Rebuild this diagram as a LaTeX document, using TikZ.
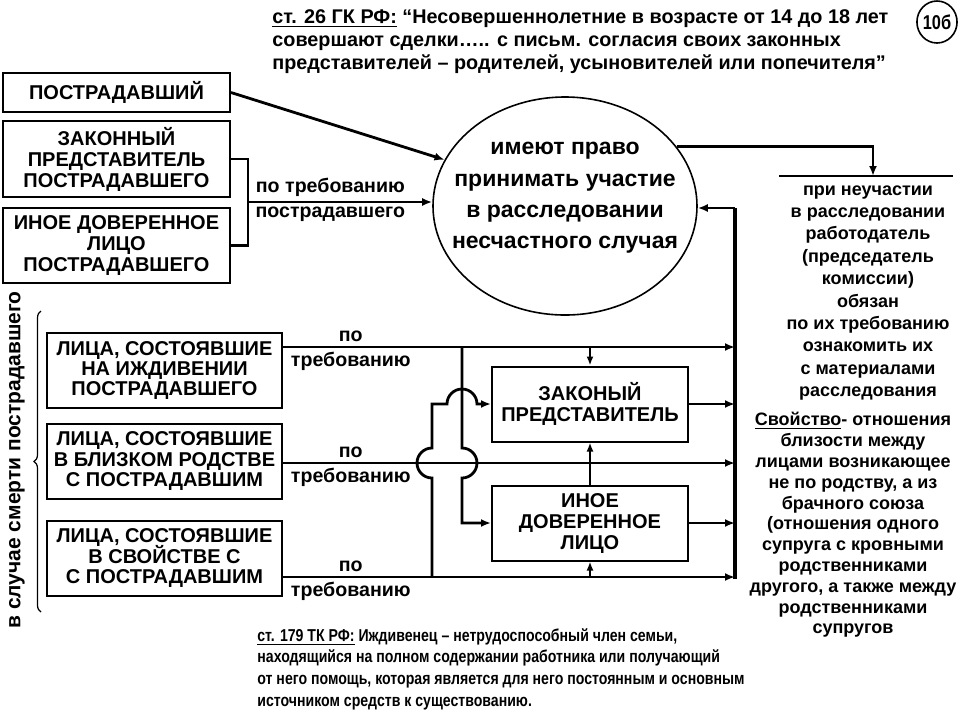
\documentclass[tikz,border=0pt]{standalone}
\usepackage{fontspec}
\setmainfont{Liberation Sans}
\newfontfamily\narrowfont[FakeStretch=0.82]{Liberation Sans Bold}
\usetikzlibrary{arrows.meta,shapes.geometric,decorations.pathreplacing,positioning}
\newcommand\tightlines{\lineskiplimit=-10pt\relax}

\begin{document}
\begin{tikzpicture}[
	x=0.5pt, y=-0.5pt,
	every node/.style={font=\bfseries\fontsize{9}{10.5}\selectfont},
	box/.style={draw, line width=1pt, align=center, minimum width=113.5pt, inner sep=1pt,
		font=\bfseries\fontsize{10}{10.5}\selectfont\tightlines},
	lbox/.style={box, minimum width=117.5pt, minimum height=37.5pt,
		font=\bfseries\fontsize{10}{10.2}\selectfont\tightlines},
	mbox/.style={draw, line width=1pt, align=center, minimum width=98pt, minimum height=37.5pt,
		font=\bfseries\fontsize{10}{10.5}\selectfont\tightlines},
	conn/.style={line width=1.4pt},
	arr/.style={conn, -{Latex[length=5pt,width=4pt]}},
	thinarr/.style={line width=1pt, -{Latex[length=4.5pt,width=3.5pt]}},
	lbl/.style={inner sep=2pt, font=\bfseries\fontsize{9.8}{10.5}\selectfont},
	note/.style={font=\bfseries\fontsize{9.9}{11.5}\selectfont, align=left, inner sep=0pt},
	side/.style={align=center, inner sep=0pt}
	]
	\useasboundingbox (0,0) rectangle (960,720);

	\node[note, anchor=north west] (gk) at (272,9) {\underline{ст. 26 ГК РФ:} “Несовершеннолетние в возрасте от 14 до 18 лет\\
		совершают сделки….. с письм. согласия своих законных\\
		представителей – родителей, усыновителей или попечителя”};
	\node[ellipse, draw, line width=0.8pt, minimum width=19pt, minimum height=21pt, inner sep=0pt,
		font=\narrowfont\fontsize{10}{11}\selectfont] (num) at (937,22) {10б};

	% who takes part
	\node[box, minimum height=19.5pt] (postr) at (116.5,92.5) {ПОСТРАДАВШИЙ};
	\node[box, minimum height=38pt] (zakpr) at (116.5,159) {ЗАКОННЫЙ\\ПРЕДСТАВИТЕЛЬ\\ПОСТРАДАВШЕГО};
	\node[box, minimum height=37.5pt] (inoepr) at (116.5,245.5) {ИНОЕ ДОВЕРЕННОЕ\\ЛИЦО\\ПОСТРАДАВШЕГО};

	\node[ellipse, draw, line width=0.8pt, minimum width=132pt, minimum height=109pt] (ell) at (565,206) {};
	\node[side, font=\bfseries\fontsize{11.5}{15.7}\selectfont] (elltxt) at (565,198)
		{имеют право\\принимать участие\\в расследовании\\несчастного случая};

	\draw[arr] (postr.east) -- (ell.159);
	\draw[conn] (zakpr.east) -- ++(17,0) |- (inoepr.east);
	\coordinate (brk) at (247,202);
	\draw[arr] (brk) -- (brk -| ell.west)
		node[lbl, above, pos=0.45] {по требованию}
		node[lbl, below, pos=0.45] {пострадавшего};

	% employer
	\coordinate (neuch) at (873,176);
	\coordinate (hl) at (779,176);
	\coordinate (hr) at (953,176);
	\draw[line width=1.2pt] (hl) -- (hr);
	\draw[arr] (ell.28) -| (neuch);
	\node[side, anchor=north, font=\bfseries\fontsize{9}{11.2}\selectfont] (neuchtxt) at (868,185)
		{при неучастии\\в расследовании\\работодатель\\(председатель\\комиссии)\\обязан\\по их требованию\\ознакомить их\\с материалами\\расследования};

	% in case of death
	\coordinate (bt) at (735,208);
	\coordinate (bb) at (735,579);
	\draw[line width=2pt] (bt) -- (bb);
	\draw[arr] (bt) -- (bt -| ell.east);

	\node[lbox] (izhd) at (164.5,370.5) {ЛИЦА, СОСТОЯВШИЕ\\НА ИЖДИВЕНИИ\\ПОСТРАДАВШЕГО};
	\node[lbox] (rodst) at (164.5,461) {ЛИЦА, СОСТОЯВШИЕ\\В БЛИЗКОМ РОДСТВЕ\\С ПОСТРАДАВШИМ};
	\node[lbox] (svoist) at (164.5,558) {ЛИЦА, СОСТОЯВШИЕ\\В СВОЙСТВЕ С\\С ПОСТРАДАВШИМ};

	\coordinate (ba) at (735,347);
	\coordinate (bm) at (735,463);
	\coordinate (bc) at (735,577);
	\draw[arr] (izhd.east |- ba) -- (ba)
		node[lbl, above, pos=0.15] {по} node[lbl, below, pos=0.15] {требованию};
	\draw[arr] (rodst.east |- bm) -- (bm)
		node[lbl, above, pos=0.15] {по} node[lbl, below, pos=0.15] {требованию};
	\draw[arr] (svoist.east |- bc) -- (bc)
		node[lbl, above, pos=0.15] {по} node[lbl, below, pos=0.15] {требованию};

	\node[mbox] (zakon) at (590,404) {ЗАКОНЫЙ\\ПРЕДСТАВИТЕЛЬ};
	\node[mbox] (inoe) at (590,523) {ИНОЕ\\ДОВЕРЕННОЕ\\ЛИЦО};

	\draw[thinarr] (ba -| zakon.north) -- (zakon.north);
	\draw[thinarr] (bc -| inoe.south) -- (inoe.south);
	\draw[thinarr, {Latex[length=4.5pt,width=3.5pt]}-] (zakon.south) -- (inoe.north);
	\draw[arr] (zakon.east) -- (zakon.east -| bt);
	\draw[arr] (inoe.east) -- (inoe.east -| bt);

	\coordinate (v1) at (462,347);
	\coordinate (v2) at (432,577);
	\draw[arr] (v1) -- ++(0,101) arc[start angle=90, end angle=-90, radius=7.5pt] |- (inoe.west);
	\draw[arr] (v2) -- ++(0,-99) arc[start angle=270, end angle=90, radius=7.5pt]
		|- ([xshift=-7.5pt]v1 |- zakon.west) arc[start angle=180, end angle=0, radius=7.5pt] -- (zakon.west);

	\coordinate (brb) at (41,612);
	\coordinate (brt) at (41,311);
	\draw[decorate, decoration={brace, amplitude=3.5pt}, line width=0.6pt] (brb) -- (brt);
	\node[rotate=90, font=\bfseries\fontsize{10.5}{11}\selectfont] (smert) at (17,460) {в случае смерти пострадавшего};

	\node[side, anchor=north, font=\bfseries\fontsize{9}{10.4}\selectfont] (svtxt) at (853,412)
		{\underline{Свойство}- отношения\\близости между\\лицами возникающее\\не по родству, а из\\брачного союза\\(отношения одного\\супруга с кровными\\родственниками\\другого, а также между\\родственниками\\супругов};

	\node[note, anchor=north west, font=\narrowfont\fontsize{8.6}{10.85}\selectfont] (tk) at (257,628)
		{\underline{ст. 179 ТК РФ:} Иждивенец – нетрудоспособный член семьи,\\
		находящийся на полном содержании работника или получающий\\
		от него помощь, которая является для него постоянным и основным\\
		источником средств к существованию.};
\end{tikzpicture}
\end{document}
